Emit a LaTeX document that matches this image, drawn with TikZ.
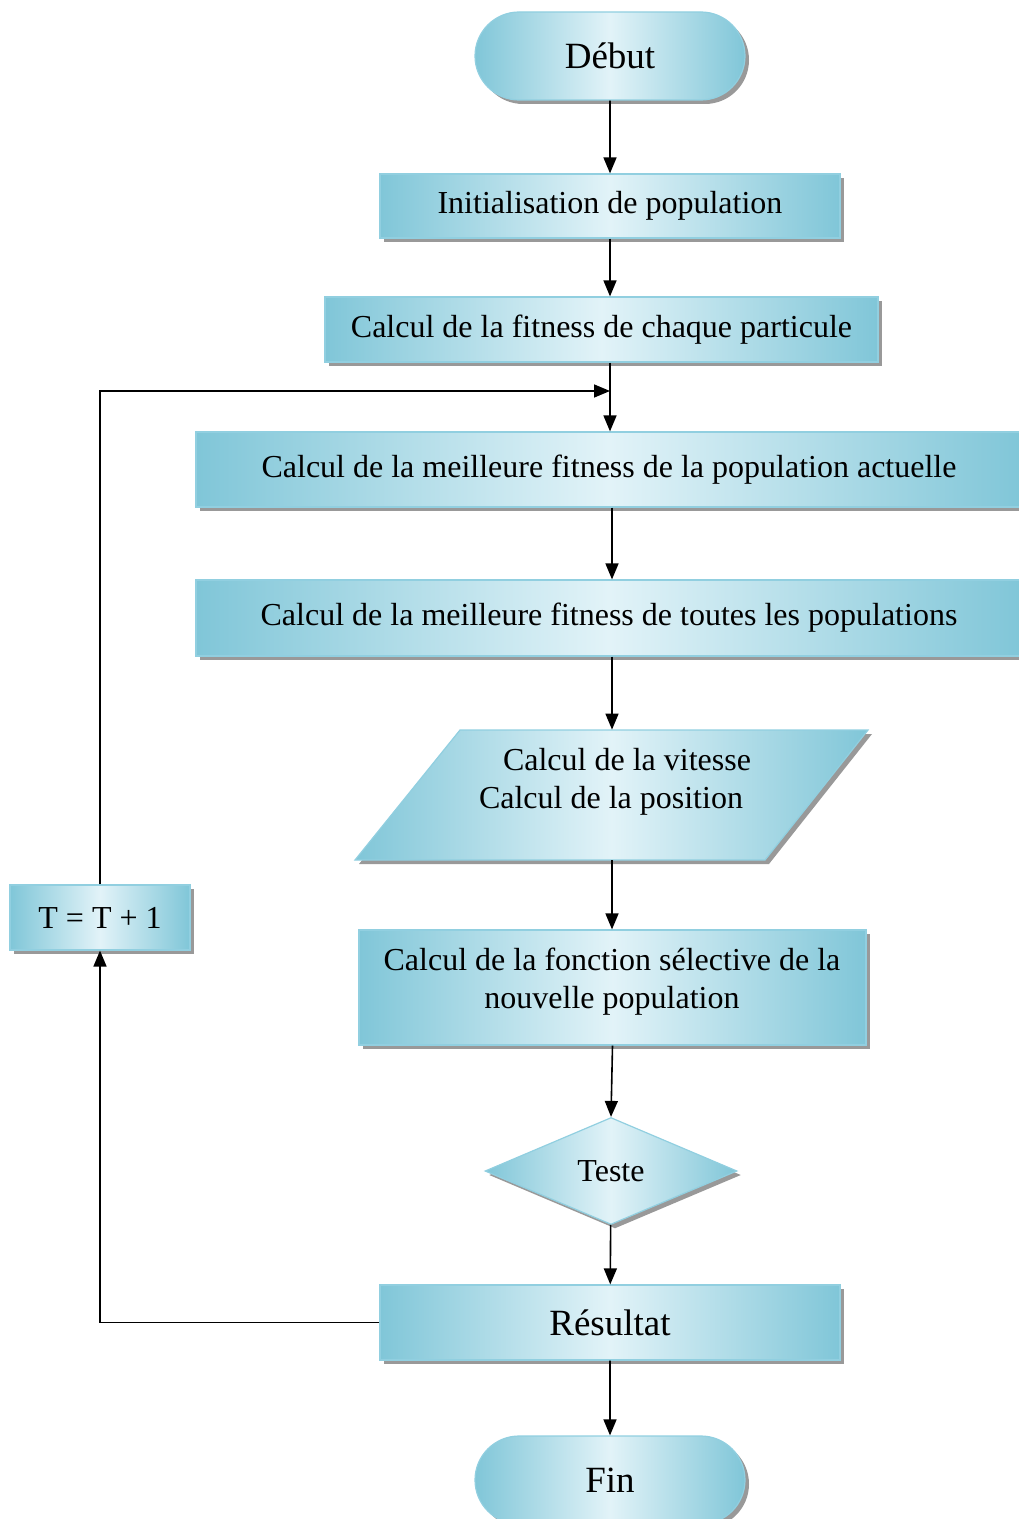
\documentclass[tikz,border=0pt]{standalone}
\usepackage{fontspec}
\setmainfont{Liberation Serif}
\usetikzlibrary{shapes.geometric,shapes.misc,shadows,arrows.meta}
\definecolor{boxdark}{RGB}{128,198,216}
\definecolor{boxlight}{RGB}{226,243,248}
\definecolor{boxedge}{RGB}{145,207,224}
\begin{document}
\begin{tikzpicture}[x=0.5pt,y=-0.5pt,
 fillbox/.style={draw=boxedge, line width=0.6pt, left color=boxdark, right color=boxdark, middle color=boxlight, drop shadow={shadow xshift=2pt, shadow yshift=-2pt, fill=black!40, opacity=1}},
 proc/.style={fillbox, rectangle, inner sep=0pt, font=\fontsize{16}{19}\selectfont, align=center},
 term/.style={fillbox, rounded rectangle, minimum width=135pt, minimum height=44pt, inner sep=0pt, font=\fontsize{18.5}{22}\selectfont},
 txt/.style={inner sep=0pt, font=\fontsize{16}{19}\selectfont, align=center},
 conn/.style={line width=0.8pt, -{Triangle[width=6.5pt,length=8pt]}}
]
\useasboundingbox (0,0) rectangle (1018,1519);

\node[term] (debut) at (610,56) {Début};
\node[proc, minimum width=230pt, minimum height=32pt] (init) at (610,206) {Initialisation de population};
\node[proc, minimum width=276.5pt, minimum height=32.5pt] (chaque) at (601.5,329.5) {Calcul de la fitness de chaque particule};
\node[proc, minimum width=413pt, minimum height=37.5pt] (actuelle) at (609,469.5) {Calcul de la meilleure fitness de la population actuelle};
\node[proc, minimum width=413pt, minimum height=38pt] (toutes) at (609,618) {Calcul de la meilleure fitness de toutes les populations};

\path[fillbox] (460,730) -- (868,730) -- (765,860) -- (355,860) -- cycle;
\node[inner sep=0pt, minimum width=256pt, minimum height=65pt] (para) at (611.5,795) {};
\node[txt] (paratext) at (611,782) {\hspace*{16pt}Calcul de la vitesse\\Calcul de la position};

\node[proc, minimum width=253.5pt, minimum height=57.5pt] (fonction) at (612.5,987.5) {};
\node[txt] (fonctiontext) at (612,982) {Calcul de la fonction sélective de la\\nouvelle population};

\node[fillbox, diamond, minimum width=126pt, minimum height=53.5pt, inner sep=0pt, font=\fontsize{16}{19}\selectfont] (teste) at (611,1171) {Teste};
\node[proc, minimum width=230pt, minimum height=37.5pt, font=\fontsize{18.5}{22}\selectfont] (resultat) at (610,1322.5) {Résultat};
\node[term] (fin) at (610,1480) {Fin};
\node[proc, minimum width=90pt, minimum height=32.5pt] (tbox) at (100,917.5) {T = T + 1};

\coordinate (j) at (610,391);
\coordinate (a) at (612,0);
\draw[conn] (debut) -- (init);
\draw[conn] (init.south) -- (init.south |- chaque.north);
\draw[conn] (j |- chaque.south) -- (j |- actuelle.north);
\draw[conn] (tbox.north) |- (j);
\draw[conn] (a |- actuelle.south) -- (a |- toutes.north);
\draw[conn] (a |- toutes.south) -- (a |- para.north);
\draw[conn] (a |- para.south) -- (a |- fonction.north);
\draw[conn] (fonction.south) -- (teste.north);
\draw[conn] (teste) -- (resultat);
\draw[conn] (resultat) -- (fin);
\draw[conn] (resultat.west) -| (tbox.south);
\end{tikzpicture}
\end{document}
